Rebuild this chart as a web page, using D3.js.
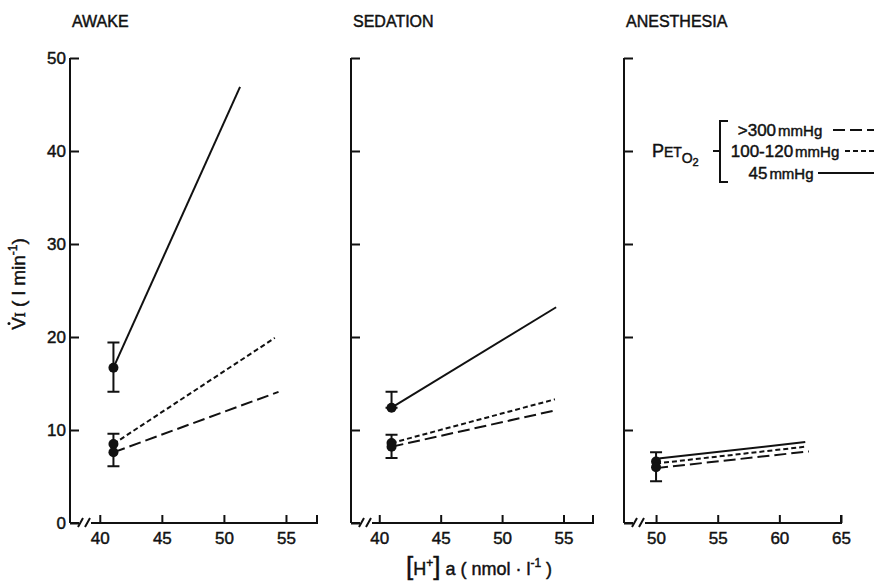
<!DOCTYPE html>
<html>
<head>
<meta charset="utf-8">
<script src="https://cdnjs.cloudflare.com/ajax/libs/d3/7.8.5/d3.min.js"></script>
<style>
  body { margin: 0; background: #fff; }
  text { font-family: "Liberation Sans", Arial, sans-serif; fill: #111; stroke: #111; stroke-width: 0.45px; }
</style>
</head>
<body>
<div id="chart"></div>
<script>
// panel titles and axis ticks
var panelNames = ["AWAKE", "SEDATION", "ANESTHESIA"];
var xTicks = [[40, 45, 50, 55], [40, 45, 50, 55], [50, 55, 60, 65]];
var xDomains = [[37.6, 57.5], [37.7, 57.4], [47.4, 65]];
var yTicks = [0, 10, 20, 30, 40, 50];

// regression lines per panel: [[H+]a, VI] start and end
var lineHigh = [[[41.1, 7.6], [54.4, 14.1]], [[41.0, 8.2], [54.3, 12.1]], [[50.0, 5.9], [62.4, 7.7]]]; // >300 mmHg
var lineMid = [[[41.1, 8.5], [54.1, 19.9]], [[41.0, 8.6], [54.3, 13.3]], [[50.0, 6.4], [62.1, 8.2]]];  // 100-120 mmHg
var lineLow = [[[41.1, 16.7], [51.3, 46.9]], [[41.0, 12.4], [54.4, 23.2]], [[50.0, 6.9], [62.1, 8.7]]]; // 45 mmHg

// mean points and error bars [x, lo, hi]
var points = [[[41.1, 16.7], [41.1, 8.5], [41.1, 7.6]], [[41.0, 12.4], [41.0, 8.6], [41.0, 8.2]], [[50.0, 6.6], [50.0, 6.0]]];
var errBars = [[[41.1, 14.1, 19.4], [41.1, 6.1, 9.6]], [[41.0, 12.4, 14.1], [41.0, 7.0, 9.5]], [[50.0, 4.5, 7.6]]];

var legendLabels = [">300", "100-120", "45"];

// layout
var svgWidth = 874, svgHeight = 582;
var panelRange = [[70, 317], [351, 593], [624, 841]];
var dashes = ["12,5", "5,3", null];

var svg = d3.select("#chart")
  .append("svg")
  .attr("width", svgWidth)
  .attr("height", svgHeight);

var yScale = d3.scaleLinear()
  .domain([0, 50])
  .range([523, 58]);

var series = [lineHigh, lineMid, lineLow];

panelNames.forEach(function(name, i) {
  var x0 = panelRange[i][0], x1 = panelRange[i][1];
  var xScale = d3.scaleLinear()
    .domain(xDomains[i])
    .range([x0, x1]);

  var g = svg.append("g");

  // title
  g.append("text")
    .attr("x", x0 + 2)
    .attr("y", 27)
    .attr("font-size", 16)
    .text(name);

  // y axis
  var leftAxis = d3.axisLeft(yScale)
    .tickValues(yTicks)
    .tickSize(-9)
    .tickPadding(4);
  if (i > 0) leftAxis.tickFormat("");
  var ya = g.append("g")
    .attr("transform", "translate(" + x0 + ",0)")
    .call(leftAxis);
  ya.select(".domain").remove();
  ya.selectAll("line").attr("stroke", "#111").attr("stroke-width", 2);
  ya.selectAll("text")
    .attr("font-size", 17)
    .attr("font-family", "Liberation Sans, Arial, sans-serif")
    .attr("fill", "#111");

  g.append("line")
    .attr("x1", x0).attr("x2", x0)
    .attr("y1", yScale(0)).attr("y2", yScale(50))
    .attr("stroke", "#111")
    .attr("stroke-width", 2);

  // x axis with break
  var bottomAxis = d3.axisBottom(xScale)
    .tickValues(xTicks[i])
    .tickSize(-8)
    .tickPadding(9);
  var xa = g.append("g")
    .attr("transform", "translate(0," + yScale(0) + ")")
    .call(bottomAxis);
  xa.select(".domain").remove();
  xa.selectAll("line").attr("stroke", "#111").attr("stroke-width", 2);
  xa.selectAll("text")
    .attr("font-size", 17)
    .attr("font-family", "Liberation Sans, Arial, sans-serif")
    .attr("fill", "#111");

  var y0 = yScale(0);
  var axisPath = "M" + x0 + "," + y0 + "H" + (x0 + 9) +
    "M" + (x0 + 8) + "," + (y0 + 4) + "L" + (x0 + 13) + "," + (y0 - 5) +
    "M" + (x0 + 15) + "," + (y0 + 4) + "L" + (x0 + 20) + "," + (y0 - 5) +
    "M" + (x0 + 21) + "," + y0 + "H" + x1 + "V" + (y0 - 8);
  g.append("path")
    .attr("d", axisPath)
    .attr("fill", "none")
    .attr("stroke", "#111")
    .attr("stroke-width", 2);

  // regression lines
  var line = d3.line()
    .x(function(d) { return xScale(d[0]); })
    .y(function(d) { return yScale(d[1]); });

  series.forEach(function(s, k) {
    g.append("path")
      .datum(s[i])
      .attr("d", line)
      .attr("fill", "none")
      .attr("stroke", "#111")
      .attr("stroke-width", 2)
      .attr("stroke-dasharray", dashes[k]);
  });

  // error bars
  errBars[i].forEach(function(e) {
    var cx = xScale(e[0]);
    g.append("path")
      .attr("d", "M" + cx + "," + yScale(e[1]) + "V" + yScale(e[2]) +
        "M" + (cx - 6) + "," + yScale(e[1]) + "H" + (cx + 6) +
        "M" + (cx - 6) + "," + yScale(e[2]) + "H" + (cx + 6))
      .attr("fill", "none")
      .attr("stroke", "#111")
      .attr("stroke-width", 2);
  });

  // points
  g.selectAll("circle")
    .data(points[i])
    .enter()
    .append("circle")
    .attr("cx", function(d) { return xScale(d[0]); })
    .attr("cy", function(d) { return yScale(d[1]); })
    .attr("r", 5)
    .attr("fill", "#111");
});

// y axis label (rotated), with a dot over the V
var yLabG = svg.append("g")
  .attr("transform", "translate(25,284) rotate(-90)");
var yLab = yLabG.append("text")
  .attr("text-anchor", "middle")
  .attr("font-size", 19);
yLab.append("tspan").text("V");
yLab.append("tspan").attr("font-family", "Liberation Serif, serif").attr("font-size", 15).text("I");
yLab.append("tspan").text(" (  l   min");
yLab.append("tspan").attr("font-size", 12).attr("dy", -8).text("-1");
yLab.append("tspan").attr("dy", 8).text(")");
var vBox = yLab.node().getExtentOfChar(0);
yLabG.append("circle")
  .attr("cx", vBox.x + vBox.width / 2)
  .attr("cy", vBox.y + 1)
  .attr("r", 1.5)
  .attr("fill", "#111");

// x axis label
var xLab = svg.append("text")
  .attr("x", 479)
  .attr("y", 575)
  .attr("text-anchor", "middle")
  .attr("font-size", 18);
xLab.append("tspan").attr("font-size", 26).text("[");
xLab.append("tspan").text("H");
xLab.append("tspan").attr("font-size", 12).attr("dy", -8).text("+");
xLab.append("tspan").attr("font-size", 26).attr("dy", 8).text("]");
xLab.append("tspan").text(" a ( nmol \u00b7 l");
xLab.append("tspan").attr("font-size", 12).attr("dy", -8).text("-1");
xLab.append("tspan").attr("dy", 8).text(" )");

// legend
var leg = svg.append("g");
var pet = leg.append("text")
  .attr("x", 652)
  .attr("y", 157)
  .attr("font-size", 18);
pet.append("tspan").text("P");
pet.append("tspan").attr("font-size", 14).text("ET");
pet.append("tspan").attr("font-size", 14).attr("dy", 6).text("O");
pet.append("tspan").attr("font-size", 11).attr("dy", 3).text("2");

leg.append("path")
  .attr("d", "M728,121H720V182H728M720,151H713")
  .attr("fill", "none")
  .attr("stroke", "#111")
  .attr("stroke-width", 2);

var legY = [130, 151, 173];
var legTextX = [780, 785, 781];
var legLineX = [833, 845, 818];
legendLabels.forEach(function(lbl, k) {
  var t = leg.append("text")
    .attr("x", legTextX[k])
    .attr("y", legY[k] + 6)
    .attr("text-anchor", "middle")
    .attr("font-size", 17);
  t.append("tspan").text(lbl);
  t.append("tspan").attr("font-size", 15).attr("dx", 2).text("mmHg");
  leg.append("line")
    .attr("x1", legLineX[k]).attr("x2", 874)
    .attr("y1", legY[k]).attr("y2", legY[k])
    .attr("stroke", "#111")
    .attr("stroke-width", 2)
    .attr("stroke-dasharray", dashes[k]);
});
</script>
</body>
</html>
